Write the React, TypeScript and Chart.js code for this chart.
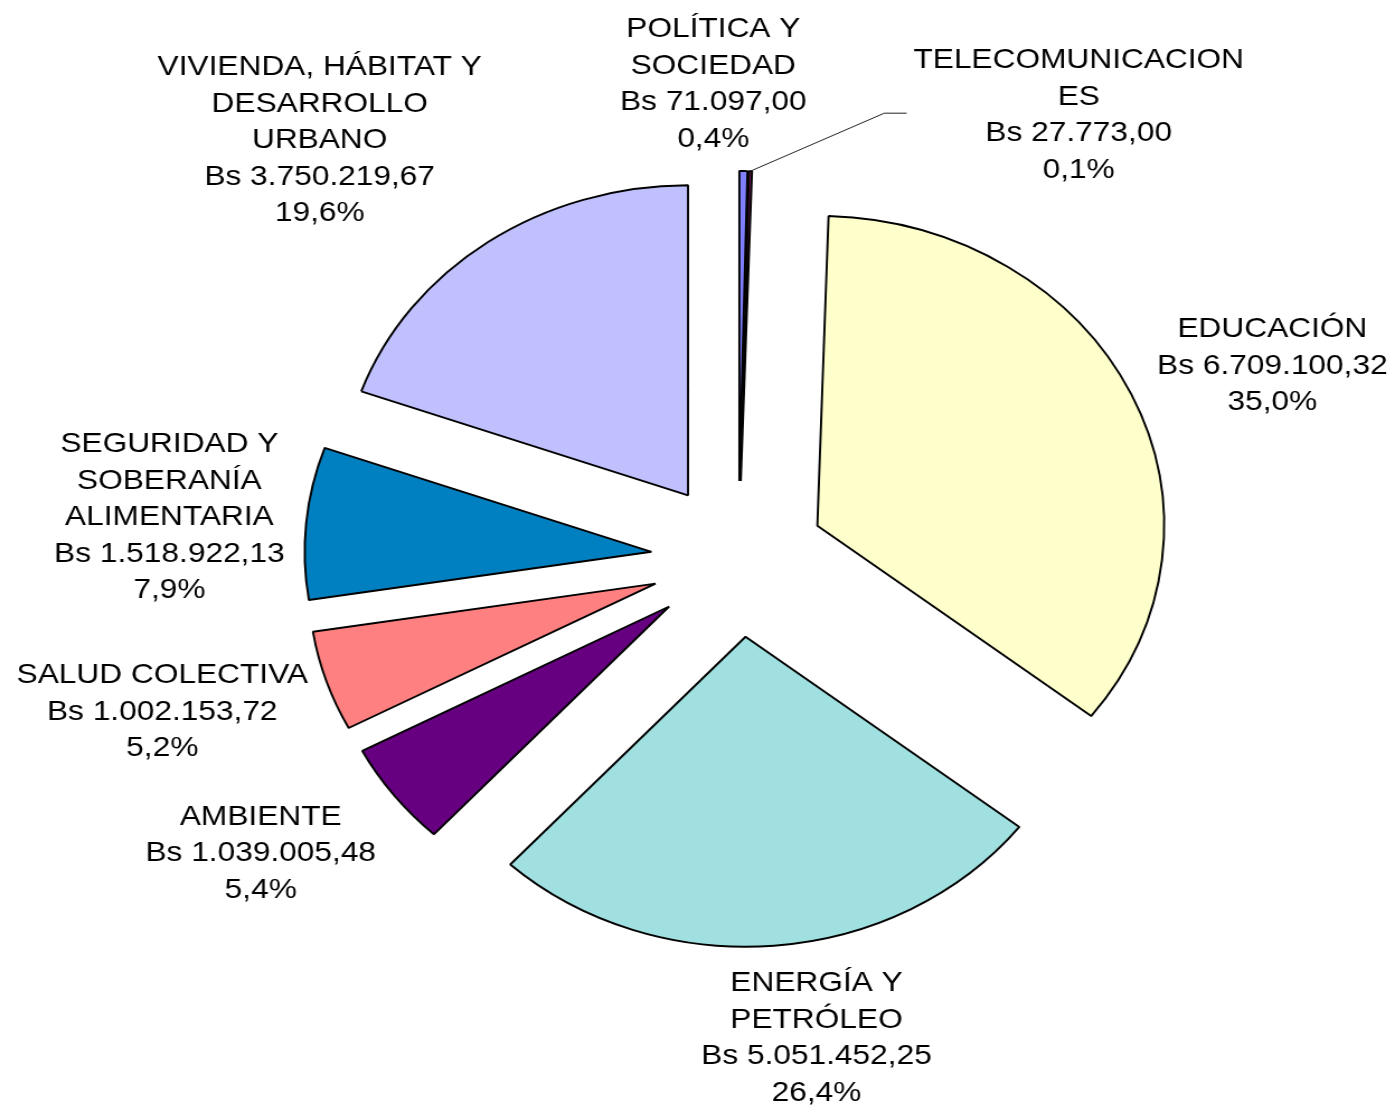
import React, { useEffect, useRef } from "react";
import { Chart, registerables } from "chart.js";

Chart.register(...registerables);

// ---- data ----
const categories: string[] = [
  "POLÍTICA Y\nSOCIEDAD",
  "TELECOMUNICACION\nES",
  "EDUCACIÓN",
  "ENERGÍA Y\nPETRÓLEO",
  "AMBIENTE",
  "SALUD COLECTIVA",
  "SEGURIDAD Y\nSOBERANÍA\nALIMENTARIA",
  "VIVIENDA, HÁBITAT Y\nDESARROLLO\nURBANO",
];
const values: number[] = [
  71097.0, 27773.0, 6709100.32, 5051452.25, 1039005.48, 1002153.72, 1518922.13, 3750219.67,
];
const currencyPrefix = "Bs ";

// ---- styling / layout ----
const sliceColors = ["#8080FF", "#802060", "#FFFFCC", "#A0E0E0", "#660080", "#FF8080", "#0080C0", "#C0C0FF"];
const leaderLabels = [false, true, false, false, false, false, false, false];
const labelNudge: [number, number][] = [
  [-28, -4],
  [289, 27],
  [22, -2],
  [28.5, 5.6],
  [-28, 15.6],
  [-11.7, 7.8],
  [-7.7, 2],
  [-60, -19],
];

const CANVAS_W = 1247;
const CANVAS_H = 1105;
const DISPLAY_W = 1395;
const RADIUS = 310;
const EXPLODE = 78;
const LINE_H = 36.5;
const LABEL_GAP = 12;
const TEXT_DY = 2;
const FONT = '28.3px "Liberation Sans", Arial, sans-serif';

function fmtMoney(v: number): string {
  const [i, d] = v.toFixed(2).split(".");
  return i.replace(/\B(?=(\d{3})+(?!\d))/g, ".") + "," + d;
}
function fmtPct(p: number): string {
  return p.toFixed(1).replace(".", ",") + "%";
}

export default function App() {
  const ref = useRef<HTMLCanvasElement>(null);

  useEffect(() => {
    const canvas = ref.current;
    if (!canvas) return;
    const total = values.reduce((a, b) => a + b, 0);

    // push every slice outward along its bisector by the same distance
    const explodePlugin = {
      id: "explodeSlices",
      afterDatasetUpdate(chart: any, args: any) {
        const meta = args.meta || chart.getDatasetMeta(args.index);
        meta.data.forEach((arc: any) => {
          const mid = (arc.startAngle + arc.endAngle) / 2;
          arc.x += Math.cos(mid) * EXPLODE;
          arc.y += Math.sin(mid) * EXPLODE;
        });
      },
    };

    const labelPlugin = {
      id: "sliceLabels",
      afterDatasetsDraw(chart: any) {
        const ctx = chart.ctx as CanvasRenderingContext2D;
        const meta = chart.getDatasetMeta(0);
        ctx.save();
        ctx.font = FONT;
        ctx.fillStyle = "#000";
        ctx.textAlign = "center";
        ctx.textBaseline = "middle";
        meta.data.forEach((arc: any, i: number) => {
          const p = arc.getProps(["x", "y", "startAngle", "endAngle", "outerRadius"], true);
          const mid = (p.startAngle + p.endAngle) / 2;
          const ux = Math.cos(mid);
          const uy = Math.sin(mid);
          const tx = p.x;
          const ty = p.y;
          const lines = [
            ...categories[i].split("\n"),
            currencyPrefix + fmtMoney(values[i]),
            fmtPct((values[i] / total) * 100),
          ];
          const hw = Math.max(...lines.map((l) => ctx.measureText(l).width)) / 2;
          const hh = (lines.length * LINE_H) / 2;
          const reach = p.outerRadius + LABEL_GAP;
          const cx = tx + ux * reach + ux * hw + labelNudge[i][0];
          const cy = ty + uy * reach + uy * hh + labelNudge[i][1];
          lines.forEach((l, k) => {
            ctx.fillText(l, cx, cy + TEXT_DY + (k - (lines.length - 1) / 2) * LINE_H);
          });
          if (leaderLabels[i]) {
            const sx = tx + ux * p.outerRadius;
            const sy = ty + uy * p.outerRadius;
            const left = cx - hw;
            ctx.beginPath();
            ctx.strokeStyle = "#222";
            ctx.lineWidth = 1;
            ctx.moveTo(sx, sy);
            ctx.lineTo(left - 26, cy);
            ctx.lineTo(left - 6, cy);
            ctx.stroke();
          }
        });
        ctx.restore();
      },
    };

    const chart = new Chart(canvas, {
      type: "pie",
      data: {
        labels: categories.map((c) => c.replace(/\n/g, " ")),
        datasets: [
          {
            data: values,
            backgroundColor: sliceColors,
            borderColor: "#000",
            borderWidth: 1.9,
            borderJoinStyle: "bevel",
            radius: RADIUS,
            offset: 0,
          } as any,
        ],
      },
      options: {
        responsive: false,
        maintainAspectRatio: false,
        animation: false,
        events: [],
        radius: RADIUS,
        layout: { padding: { left: 73, right: 0, top: 13, bottom: 0 } },
        plugins: {
          legend: { display: false },
          tooltip: { enabled: false },
          title: { display: false },
        },
      } as any,
      plugins: [explodePlugin, labelPlugin],
    });
    return () => chart.destroy();
  }, []);

  return (
    <div style={{ position: "absolute", left: 0, top: 0, width: DISPLAY_W, height: CANVAS_H, background: "#fff" }}>
      <canvas
        ref={ref}
        width={CANVAS_W}
        height={CANVAS_H}
        style={{ width: DISPLAY_W + "px", height: CANVAS_H + "px", display: "block" }}
      />
    </div>
  );
}
